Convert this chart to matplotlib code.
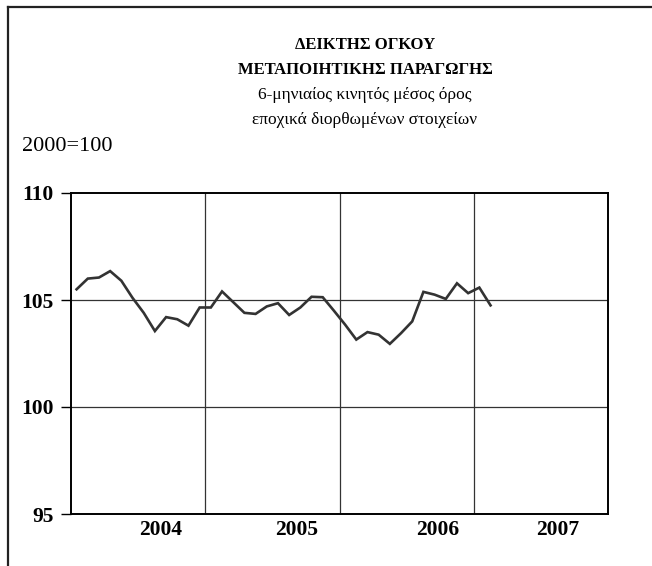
import numpy as np
import matplotlib
matplotlib.use("Agg")
import matplotlib.pyplot as plt
from matplotlib.lines import Line2D

plt.rcParams['font.family'] = ['Liberation Serif', 'DejaVu Serif']

# 6-month moving average, monthly values (first 38 of 48 category slots)
values = [105.5, 106.0, 106.05, 106.35, 105.9, 105.1, 104.4, 103.55, 104.2, 104.1,
          103.8, 104.65, 104.65, 105.4, 104.9, 104.4, 104.35, 104.7, 104.85, 104.3,
          104.65, 105.15, 105.13, 104.5, 103.85, 103.15, 103.5, 103.38, 102.95, 103.45,
          104.0, 105.38, 105.25, 105.05, 105.78, 105.32, 105.58, 104.75]
n_slots = 48
year_labels = ['2004', '2005', '2006', '2007']
year_label_pos = [7.55, 19.7, 32.3, 43.0]
y_ticks = [95, 100, 105, 110]

fig = plt.figure(figsize=(6.52, 5.66), dpi=100)
ax = fig.add_axes([71 / 652, 1 - 514 / 566, 537 / 652, 321 / 566])

x = np.arange(len(values))
ax.plot(x, values, color='#333333', linewidth=1.9, solid_joinstyle='miter', zorder=3)

ax.set_xlim(-0.5, n_slots - 0.5)
ax.set_ylim(95, 110)

# grid: horizontal at y ticks, vertical at year boundaries
for yv in y_ticks[1:-1]:
    ax.axhline(yv, color='#333333', linewidth=0.9, zorder=1)
for xb in [11.5, 23.5, 35.5]:
    ax.axvline(xb, color='#333333', linewidth=0.9, zorder=1)

ax.set_yticks(y_ticks)
ax.set_yticklabels([str(t) for t in y_ticks], fontsize=15.5, fontweight='bold')
ax.tick_params(axis='y', length=7, width=1, pad=5.5, direction='out')
ax.set_xticks(year_label_pos)
ax.set_xticklabels(year_labels, fontsize=15.5, fontweight='bold')
ax.tick_params(axis='x', length=0, pad=4)
for s in ax.spines.values():
    s.set_linewidth(1.4)
    s.set_color('black')

# outer frame (left and top edges visible)
fig.add_artist(Line2D([8 / 652, 8 / 652], [0, 1 - 7 / 566], color='#222222', linewidth=1.6,
                      transform=fig.transFigure))
fig.add_artist(Line2D([8 / 652, 1], [1 - 7 / 566, 1 - 7 / 566], color='#222222', linewidth=1.6,
                      transform=fig.transFigure))

cx = 365 / 652
fig.text(cx, 1 - 45 / 566, 'ΔΕΙΚΤΗΣ ΟΓΚΟΥ', ha='center', va='center', fontsize=12, fontweight='bold')
fig.text(cx, 1 - 70 / 566, 'ΜΕΤΑΠΟΙΗΤΙΚΗΣ ΠΑΡΑΓΩΓΗΣ', ha='center', va='center', fontsize=12, fontweight='bold')
fig.text(cx, 1 - 95 / 566, '6-μηνιαίος κινητός μέσος όρος', ha='center', va='center', fontsize=12.5)
fig.text(cx, 1 - 120 / 566, 'εποχικά διορθωμένων στοιχείων', ha='center', va='center', fontsize=12.5)
fig.text(22 / 652, 1 - 146 / 566, '2000=100', ha='left', va='center', fontsize=16)

fig.savefig('out.png', dpi=100)
